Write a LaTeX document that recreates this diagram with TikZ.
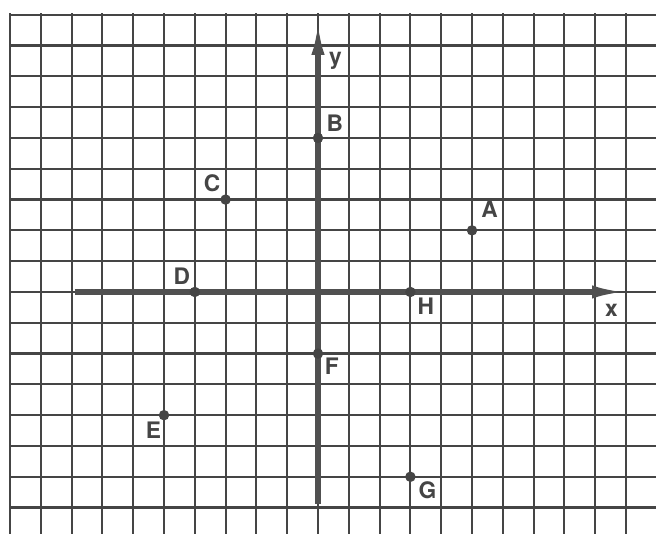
\documentclass[tikz,border=0pt]{standalone}
\usepackage{fontspec}
\setmainfont{TeX Gyre Heros}
\usetikzlibrary{arrows.meta}
\definecolor{ink}{HTML}{454545}
\definecolor{axisink}{HTML}{505050}
\tikzset{
  gridline/.style={draw=ink, line width=2pt},
  axisline/.style={draw=axisink, line width=4.8pt, -{Latex[length=1.15cm,width=0.42cm]}},
  ptdot/.style={circle, fill=ink, inner sep=0pt, minimum size=0.34cm},
  lbl/.style={text=ink, font=\fontsize{21}{25}\selectfont\bfseries, inner sep=0pt, anchor=center}
}
\begin{document}
\begin{tikzpicture}[x=1cm,y=1cm]
\useasboundingbox (-10.325,-7.857) rectangle (10.974,9.48);
\fill[white] (-10.325,-7.857) rectangle (10.974,9.48);
\begin{scope}
\clip (-10.325,-7.857) rectangle (10.974,9.48);
\foreach \x in {-10,...,10} \draw[gridline] (\x,9.05) -- (\x,-8);
\foreach \y in {-7,...,9} \draw[gridline] (-10.03,\y) -- (11.1,\y);
\end{scope}
% axes
\coordinate (xs) at (-7.9,0);
\coordinate (xe) at (10.05,0);
\coordinate (ys) at (0,-6.88);
\coordinate (ye) at (0,8.85);
\draw[axisline] (xs) -- (xe);
\draw[axisline] (ys) -- (ye);
% points
\node[ptdot] (A) at (5,2) {};
\node[ptdot] (B) at (0,5) {};
\node[ptdot] (C) at (-3,3) {};
\node[ptdot] (D) at (-4,0) {};
\node[ptdot] (E) at (-5,-4) {};
\node[ptdot] (F) at (0,-2) {};
\node[ptdot] (G) at (3,-6) {};
\node[ptdot] (H) at (3,0) {};
% labels
\node[lbl] (lA) at (5.57,2.69) {A};
\node[lbl] (lB) at (0.55,5.47) {B};
\node[lbl] (lC) at (-3.44,3.54) {C};
\node[lbl] (lD) at (-4.42,0.52) {D};
\node[lbl] (lE) at (-5.34,-4.5) {E};
\node[lbl] (lF) at (0.45,-2.4) {F};
\node[lbl] (lG) at (3.55,-6.43) {G};
\node[lbl] (lH) at (3.5,-0.47) {H};
\node[lbl, anchor=base] (lx) at (9.53,-0.8) {x};
\node[lbl, anchor=base] (ly) at (0.57,7.37) {y};
\end{tikzpicture}
\end{document}
